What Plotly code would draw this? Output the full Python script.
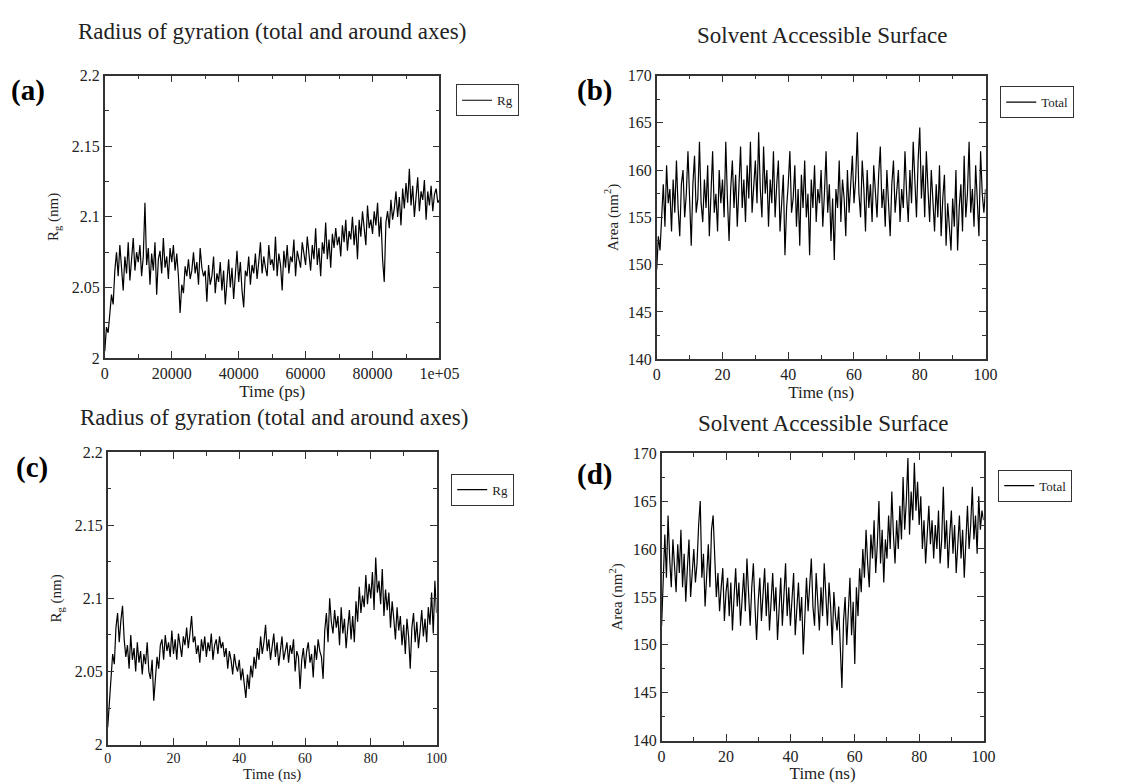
import plotly.graph_objects as go

# ---------------- data ----------------
# (a) Rg vs time in ps, sampled every 500 ps
time_a_ps = [i * 500 for i in range(201)]
rg_a = [
    2.005, 2.022, 2.018, 2.030, 2.045, 2.038, 2.062, 2.075, 2.058, 2.080,
    2.065, 2.048, 2.072, 2.060, 2.082, 2.055, 2.070, 2.085, 2.062, 2.075,
    2.068, 2.080, 2.058, 2.072, 2.110, 2.066, 2.078, 2.052, 2.074, 2.062,
    2.082, 2.045, 2.070, 2.076, 2.060, 2.085, 2.064, 2.072, 2.056, 2.078,
    2.068, 2.080, 2.062, 2.074, 2.058, 2.032, 2.052, 2.046, 2.065, 2.058,
    2.070, 2.056, 2.062, 2.075, 2.060, 2.068, 2.052, 2.078, 2.064, 2.058,
    2.062, 2.040, 2.066, 2.052, 2.058, 2.072, 2.046, 2.060, 2.054, 2.068,
    2.048, 2.062, 2.038, 2.056, 2.070, 2.050, 2.064, 2.042, 2.058, 2.076,
    2.054, 2.068, 2.048, 2.036, 2.062, 2.058, 2.072, 2.052, 2.066, 2.060,
    2.074, 2.056, 2.068, 2.082, 2.060, 2.072, 2.064, 2.058, 2.080, 2.066,
    2.070, 2.062, 2.086, 2.058, 2.074, 2.066, 2.048, 2.076, 2.064, 2.080,
    2.060, 2.072, 2.068, 2.084, 2.058, 2.076, 2.070, 2.064, 2.082, 2.072,
    2.066, 2.086, 2.074, 2.062, 2.080, 2.070, 2.092, 2.066, 2.078, 2.058,
    2.082, 2.074, 2.096, 2.070, 2.084, 2.064, 2.088, 2.078, 2.092, 2.080,
    2.086, 2.072, 2.094, 2.082, 2.098, 2.076, 2.090, 2.084, 2.100, 2.080,
    2.094, 2.070, 2.098, 2.086, 2.104, 2.090, 2.080, 2.108, 2.092, 2.098,
    2.088, 2.104, 2.094, 2.110, 2.086, 2.100, 2.070, 2.054, 2.096, 2.104,
    2.092, 2.112, 2.098, 2.106, 2.118, 2.100, 2.114, 2.094, 2.120, 2.106,
    2.124, 2.110, 2.134, 2.108, 2.122, 2.100, 2.116, 2.128, 2.104, 2.118,
    2.112, 2.126, 2.098, 2.118, 2.108, 2.122, 2.104, 2.116, 2.120, 2.110,
    2.112,
]

# time axis in ns for panels (b), (c), (d), sampled every 0.5 ns
time_ns = [i * 0.5 for i in range(201)]

# (b) SAS total area (nm^2)
sas_b = [
    149.5, 153.0, 151.5, 156.0, 158.5, 154.0, 160.5, 156.5, 158.0, 153.5,
    159.0, 155.5, 161.0, 156.0, 153.0, 158.5, 160.0, 155.0, 157.5, 162.0,
    156.0, 152.0, 158.5, 161.5, 155.5, 157.0, 163.0, 156.5, 154.5, 159.0,
    156.0, 160.5, 153.0, 158.0, 162.0, 155.5, 157.5, 153.5, 160.0, 156.5,
    159.0, 155.0, 163.0, 157.0, 152.5, 158.0, 161.0, 156.0, 159.5, 154.0,
    157.5, 162.5, 156.0, 159.0, 154.5, 160.5, 157.0, 163.0, 155.5, 158.5,
    161.0, 156.5, 164.0, 158.0, 155.0, 162.5, 157.5, 160.0, 154.0, 159.0,
    156.5, 162.0, 155.0, 158.5, 161.0, 153.5, 157.0, 159.5, 151.0, 156.0,
    158.5, 162.0, 155.5, 157.0, 160.5, 154.0, 158.0, 152.0, 159.5, 156.0,
    161.0, 155.0, 157.5, 151.0, 159.0, 156.0, 160.5, 154.5, 158.0, 156.5,
    160.0, 154.0, 157.5, 162.0, 155.5, 158.5, 152.5, 157.0, 150.5, 158.0,
    156.0, 161.0, 154.5, 159.0, 157.0, 153.0, 160.0, 155.5, 158.5, 161.5,
    156.5, 159.0, 164.0, 157.5, 155.0, 161.0, 158.0, 153.5, 160.0, 156.0,
    158.5, 154.5, 160.5, 157.0, 155.0, 159.5, 162.5, 156.0, 158.0, 154.0,
    160.0, 156.5, 153.0, 158.5, 161.0, 155.5, 157.5, 160.0, 154.5, 158.0,
    156.0, 162.0, 157.5, 154.5, 160.0, 156.5, 163.0, 158.0, 155.0, 161.0,
    164.5, 157.0, 160.5, 155.0, 162.0, 158.0, 154.5, 160.0, 157.0, 153.5,
    158.5, 155.0, 160.5, 153.0, 157.0, 159.5, 152.0, 156.5, 154.0, 151.5,
    157.0, 154.0, 160.0, 151.5, 156.0, 158.5, 153.5, 161.5, 155.0, 157.5,
    163.0, 155.5, 158.0, 154.0, 160.5, 156.0, 153.0, 162.0, 157.5, 155.5,
    158.0,
]

# (c) Rg (nm)
rg_c = [
    2.012, 2.030, 2.045, 2.062, 2.055, 2.080, 2.090, 2.070, 2.085, 2.095,
    2.072, 2.060, 2.068, 2.052, 2.075, 2.058, 2.066, 2.050, 2.070, 2.056,
    2.064, 2.048, 2.062, 2.055, 2.070, 2.050, 2.045, 2.058, 2.030, 2.048,
    2.060, 2.052, 2.068, 2.072, 2.058, 2.075, 2.064, 2.070, 2.060, 2.078,
    2.062, 2.072, 2.058, 2.076, 2.066, 2.060, 2.074, 2.068, 2.080, 2.066,
    2.076, 2.088, 2.070, 2.074, 2.062, 2.068, 2.056, 2.072, 2.064, 2.074,
    2.060, 2.070, 2.064, 2.076, 2.058, 2.068, 2.072, 2.062, 2.074, 2.066,
    2.070, 2.060, 2.066, 2.052, 2.064, 2.058, 2.048, 2.062, 2.054, 2.050,
    2.058, 2.044, 2.052, 2.040, 2.032, 2.048, 2.038, 2.054, 2.046, 2.060,
    2.052, 2.066, 2.058, 2.074, 2.062, 2.070, 2.082, 2.064, 2.072, 2.058,
    2.068, 2.076, 2.060, 2.070, 2.054, 2.066, 2.074, 2.058, 2.064, 2.070,
    2.056, 2.068, 2.062, 2.072, 2.050, 2.064, 2.060, 2.038, 2.058, 2.066,
    2.052, 2.064, 2.070, 2.056, 2.062, 2.046, 2.068, 2.058, 2.072, 2.064,
    2.060, 2.045, 2.078, 2.090, 2.070, 2.100, 2.084, 2.076, 2.092, 2.080,
    2.088, 2.068, 2.094, 2.076, 2.086, 2.066, 2.080, 2.092, 2.072, 2.088,
    2.070, 2.098, 2.084, 2.108, 2.090, 2.102, 2.094, 2.116, 2.096, 2.110,
    2.100, 2.118, 2.092, 2.128, 2.104, 2.112, 2.096, 2.120, 2.088, 2.106,
    2.092, 2.104, 2.080, 2.098, 2.086, 2.072, 2.094, 2.078, 2.088, 2.068,
    2.082, 2.062, 2.086, 2.074, 2.052, 2.080, 2.090, 2.070, 2.084, 2.066,
    2.078, 2.092, 2.074, 2.086, 2.070, 2.094, 2.082, 2.104, 2.076, 2.112,
    2.090,
]

# (d) SAS total area (nm^2)
sas_d = [
    152.0, 158.0, 161.5, 157.0, 163.5, 159.0, 156.0, 161.0, 158.5, 155.5,
    160.5, 157.5, 162.0, 156.0, 159.5, 154.5, 158.0, 161.0, 155.0, 157.5,
    160.0, 156.5, 158.5, 162.5, 165.0, 157.0, 159.5, 154.0, 158.0, 160.5,
    156.0, 162.0, 163.5, 158.5, 155.0, 157.5, 153.5, 156.0, 158.0, 152.5,
    155.5, 157.0, 153.0, 156.5, 151.5, 155.0, 158.0, 154.0, 156.5, 152.0,
    155.0, 157.5, 153.5, 159.0, 155.5, 152.0, 156.0, 158.5, 154.0, 150.5,
    154.5, 157.0, 152.5, 155.5, 158.0, 153.0, 156.5, 151.5, 155.0, 157.5,
    153.5, 156.0, 150.5, 154.5, 157.0, 152.0, 155.5, 158.5, 153.0, 156.0,
    152.0, 155.0, 157.5, 151.0, 154.5, 156.5, 152.5, 155.0, 149.0, 154.0,
    157.0, 153.5, 156.0, 159.0, 154.0, 152.0, 157.5, 155.0, 151.5, 156.0,
    153.0, 158.5, 155.5, 152.0, 156.5, 154.0, 150.0, 155.5, 153.0, 151.5,
    154.0, 149.5, 145.5, 152.5, 155.0, 150.0, 153.5, 157.0, 151.0, 154.5,
    148.0, 156.0, 153.0, 158.0, 155.5, 160.0, 157.0, 162.0, 158.5, 156.0,
    161.5, 159.0, 163.0, 157.5, 160.5, 165.0, 158.5, 162.0, 156.5, 161.0,
    159.0, 163.5, 160.0, 166.0, 161.5, 158.5, 163.0, 160.0, 164.5, 161.0,
    167.5, 162.0, 165.0, 169.5, 161.5, 166.0, 163.0, 169.0, 164.0, 167.0,
    162.5, 165.5, 160.0, 163.0, 158.5, 162.0, 164.5, 160.5, 163.0, 159.0,
    162.5, 160.0, 164.0, 158.5, 161.0, 166.5, 160.0, 163.0, 158.0, 161.5,
    164.0, 159.5, 162.5, 157.5, 161.0, 163.5, 159.0, 162.0, 157.0, 160.5,
    164.5, 160.0, 162.5, 166.5, 161.0, 163.5, 159.5, 165.5, 162.0, 164.0,
    163.0,
]

# tick labels
rg_tickvals = [2, 2.05, 2.1, 2.15, 2.2]
rg_ticktext = ["2", "2.05", "2.1", "2.15", "2.2"]
sas_tickvals = [140, 145, 150, 155, 160, 165, 170]
sas_ticktext = ["140", "145", "150", "155", "160", "165", "170"]
ps_tickvals = [0, 20000, 40000, 60000, 80000, 100000]
ps_ticktext = ["0", "20000", "40000", "60000", "80000", "1e+05"]
ns_tickvals = [0, 20, 40, 60, 80, 100]
ns_ticktext = ["0", "20", "40", "60", "80", "100"]

panel_titles = ["Radius of gyration (total and around axes)", "Solvent Accessible Surface",
                "Radius of gyration (total and around axes)", "Solvent Accessible Surface"]
panel_letters = ["(a)", "(b)", "(c)", "(d)"]
legend_names = ["Rg", "Total", "Rg", "Total"]

# ---------------- figure ----------------
W, H = 1121, 783
SERIF = "Liberation Serif, Times New Roman, serif"
INK = "#222222"


def px_x(p):
    return p / W


def px_y(p):
    return 1 - p / H


fig = go.Figure()

traces = [
    (time_a_ps, rg_a, "x", "y", "legend"),
    (time_ns, sas_b, "x2", "y2", "legend2"),
    (time_ns, rg_c, "x3", "y3", "legend3"),
    (time_ns, sas_d, "x4", "y4", "legend4"),
]
for (xs, ys, xa, ya, lg), name in zip(traces, legend_names):
    fig.add_trace(go.Scatter(x=xs, y=ys, mode="lines", name=name,
                             line=dict(color="black", width=1.2),
                             xaxis=xa, yaxis=ya, legend=lg, showlegend=True))

# plot areas in pixels: (left, right, top, bottom)
boxes = [(103, 445, 69, 358), (667, 1003, 69, 359), (106, 442, 454, 753), (672, 1001, 455, 749)]
# x tick / title font sizes per panel (panel c sits at the very bottom edge)
xtick_sizes = [16, 16, 14, 16]
xtitle_sizes = [17, 17, 15, 17]

common_axis = dict(
    showline=True, linecolor="#333333", linewidth=1.5, mirror="ticks",
    ticks="inside", ticklen=7, tickwidth=1.2, tickcolor="#333333",
    showgrid=False, zeroline=False,
    tickfont=dict(family=SERIF, size=16, color=INK),
)

x_specs = [
    dict(range=[0, 100000], tickvals=ps_tickvals, ticktext=ps_ticktext,
         minor=dict(ticks="inside", ticklen=4, tick0=0, dtick=10000, tickcolor="#333333", showgrid=False),
         title=dict(text="Time (ps)", standoff=0)),
    dict(range=[0, 100], tickvals=ns_tickvals, ticktext=ns_ticktext,
         minor=dict(ticks="inside", ticklen=4, tick0=0, dtick=10, tickcolor="#333333", showgrid=False),
         title=dict(text="Time (ns)", standoff=0)),
    dict(range=[0, 100], tickvals=ns_tickvals, ticktext=ns_ticktext,
         minor=dict(ticks="inside", ticklen=4, tick0=0, dtick=10, tickcolor="#333333", showgrid=False),
         title=dict(text="Time (ns)", standoff=0)),
    dict(range=[0, 100], tickvals=ns_tickvals, ticktext=ns_ticktext,
         minor=dict(ticks="inside", ticklen=4, tick0=0, dtick=10, tickcolor="#333333", showgrid=False),
         title=dict(text="Time (ns)", standoff=0)),
]
y_specs = [
    dict(range=[2, 2.2], tickvals=rg_tickvals, ticktext=rg_ticktext,
         minor=dict(ticks="inside", ticklen=4, tick0=2, dtick=0.025, tickcolor="#333333", showgrid=False),
         title=dict(text="R<sub>g</sub> (nm)", standoff=10)),
    dict(range=[140, 170], tickvals=sas_tickvals, ticktext=sas_ticktext,
         minor=dict(ticks="inside", ticklen=4, tick0=140, dtick=2.5, tickcolor="#333333", showgrid=False),
         title=dict(text="Area (nm<sup>2</sup>)", standoff=6)),
    dict(range=[2, 2.2], tickvals=rg_tickvals, ticktext=rg_ticktext,
         minor=dict(ticks="inside", ticklen=4, tick0=2, dtick=0.025, tickcolor="#333333", showgrid=False),
         title=dict(text="R<sub>g</sub> (nm)", standoff=10)),
    dict(range=[140, 170], tickvals=sas_tickvals, ticktext=sas_ticktext,
         minor=dict(ticks="inside", ticklen=4, tick0=140, dtick=2.5, tickcolor="#333333", showgrid=False),
         title=dict(text="Area (nm<sup>2</sup>)", standoff=6)),
]

layout = dict(
    width=W, height=H, margin=dict(l=0, r=0, t=0, b=0),
    paper_bgcolor="white", plot_bgcolor="white",
    font=dict(family=SERIF, color=INK),
)

for i, ((l, r, t, b), xs, ys) in enumerate(zip(boxes, x_specs, y_specs)):
    n = "" if i == 0 else str(i + 1)
    xa = dict(common_axis, domain=[px_x(l), px_x(r)], anchor="y" + n, **xs)
    xa["tickfont"] = dict(family=SERIF, size=xtick_sizes[i], color=INK)
    xa["title"] = dict(xs["title"], font=dict(family=SERIF, size=xtitle_sizes[i], color=INK))
    ya = dict(common_axis, domain=[px_y(b), px_y(t)], anchor="x" + n, **ys)
    ya["title"] = dict(ys["title"], font=dict(family=SERIF, size=15, color=INK))
    layout["xaxis" + n] = xa
    layout["yaxis" + n] = ya

# legends
legend_pos = [(462, 78), (1018, 80), (457, 476), (1016, 472)]
for i, (lx, ly) in enumerate(legend_pos):
    key = "legend" if i == 0 else "legend" + str(i + 1)
    layout[key] = dict(x=px_x(lx), y=px_y(ly), xanchor="left", yanchor="top",
                       bordercolor="#333333", borderwidth=1, bgcolor="white",
                       itemwidth=30, tracegroupgap=0,
                       font=dict(family=SERIF, size=13, color=INK))

fig.update_layout(**layout)

# titles and panel letters
title_pos = [(274, 24), (836, 28), (276, 419), (837, 425)]
letter_pos = [(25, 84), (603, 84), (29, 470), (603, 477)]
for (tx, ty), txt in zip(title_pos, panel_titles):
    fig.add_annotation(x=px_x(tx), y=px_y(ty), xref="paper", yref="paper",
                       text=txt, showarrow=False, xanchor="center", yanchor="middle",
                       font=dict(family=SERIF, size=23, color=INK))
for (lx, ly), txt in zip(letter_pos, panel_letters):
    fig.add_annotation(x=px_x(lx), y=px_y(ly), xref="paper", yref="paper",
                       text="<b>" + txt + "</b>", showarrow=False, xanchor="center", yanchor="middle",
                       font=dict(family=SERIF, size=29, color="black"))

fig.write_html("out.html")
